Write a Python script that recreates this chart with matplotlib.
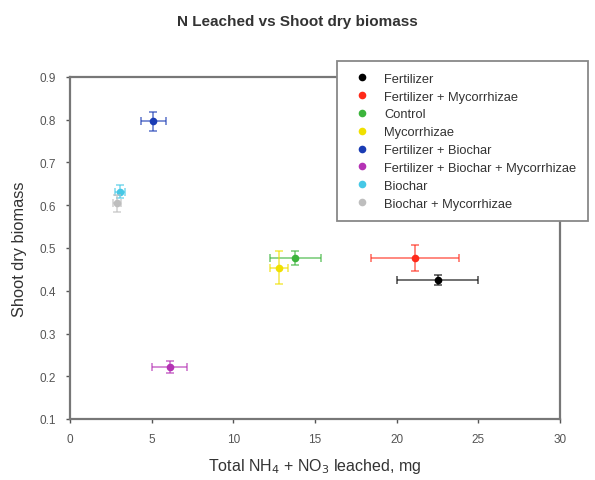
import numpy as np
import matplotlib
matplotlib.use('Agg')
import matplotlib.pyplot as plt

plt.rcParams['font.family'] = ['Liberation Sans', 'DejaVu Sans']

treatments = ['Fertilizer', 'Fertilizer + Mycorrhizae', 'Control', 'Mycorrhizae',
              'Fertilizer + Biochar', 'Fertilizer + Biochar + Mycorrhizae',
              'Biochar', 'Biochar + Mycorrhizae']
n_leached = [22.5, 21.1, 13.8, 12.8, 5.1, 6.1, 3.05, 2.9]
n_err = [2.45, 2.7, 1.55, 0.55, 0.75, 1.05, 0.3, 0.25]
biomass = [0.425, 0.477, 0.477, 0.454, 0.796, 0.222, 0.632, 0.605]
biomass_err = [0.012, 0.03, 0.016, 0.038, 0.022, 0.014, 0.016, 0.02]
colors = ['#000000', '#ff2a1a', '#3cb43c', '#f0e000', '#1a3cb4', '#b432b4', '#46c8e6', '#bebebe']

fig = plt.figure(figsize=(5.95, 4.81), dpi=100)
ax = fig.add_axes([70/595, 61/481, 490/595, 342/481])

for i in range(len(treatments)):
    ax.errorbar(n_leached[i], biomass[i], xerr=n_err[i], yerr=biomass_err[i],
                fmt='none', ecolor=colors[i], alpha=0.6, elinewidth=1.3,
                capsize=3, capthick=1.3)
    ax.plot(n_leached[i], biomass[i], 'o', color=colors[i], ms=5.5, mew=0,
            label=treatments[i])

ax.set_xlim(0, 30)
ax.set_ylim(0.1, 0.9)
ax.set_xticks(np.arange(0, 31, 5))
ax.set_yticks(np.arange(0.1, 0.91, 0.1))
ax.set_yticklabels([f'{v:.1f}' for v in np.arange(0.1, 0.91, 0.1)])
ax.tick_params(labelsize=8.5, colors='#555555', length=3, width=1, pad=7)
for s in ax.spines.values():
    s.set_color('#777777')
    s.set_linewidth(1.6)

ax.set_xlabel('Total NH$_4$ + NO$_3$ leached, mg', fontsize=11.5, color='#333333', labelpad=8)
ax.set_ylabel('Shoot dry biomass', fontsize=11.8, color='#333333', labelpad=9)
fig.suptitle('N Leached vs Shoot dry biomass', fontsize=11, fontweight='bold',
             color='#333333', y=0.968)

leg = ax.legend(loc='upper left', bbox_to_anchor=(337/595, 1 - 62/481),
                bbox_transform=fig.transFigure, fontsize=9.3, frameon=True,
                fancybox=False, shadow=False, edgecolor='#888888', framealpha=1,
                handletextpad=0.75, labelspacing=0.45, borderpad=0.9,
                borderaxespad=0, markerscale=1.0, handlelength=2.0)
leg.get_frame().set_linewidth(1.3)
for t in leg.get_texts():
    t.set_color('#333333')

fig.savefig('out.png', dpi=100)
